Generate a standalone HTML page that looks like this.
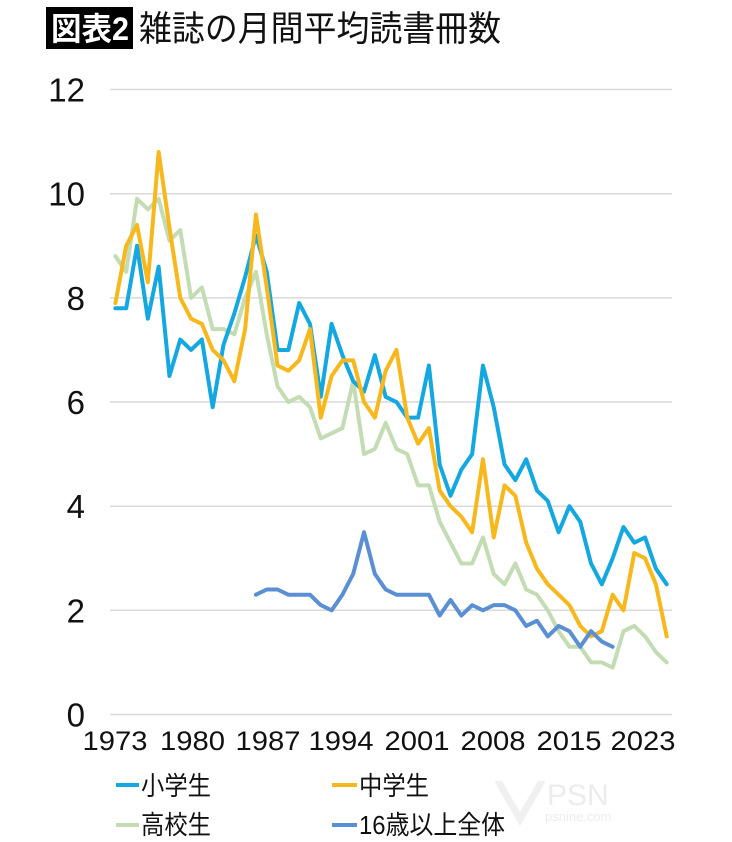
<!DOCTYPE html>
<html>
<head>
<meta charset="utf-8">
<style>
  html, body { margin: 0; padding: 0; background: #ffffff; }
  body { width: 732px; height: 842px; overflow: hidden; }
  svg { display: block; }
  .cjk { font-family: "Liberation Sans", "Noto Sans CJK JP", sans-serif; }
  .num { font-family: "Liberation Sans", "DejaVu Sans", sans-serif; fill: #111; }
</style>
</head>
<body>
<svg width="732" height="842" viewBox="0 0 732 842" xmlns="http://www.w3.org/2000/svg">
  <rect x="0" y="0" width="732" height="842" fill="#ffffff"/>

  <!-- Title -->
  <rect x="46" y="7" width="87" height="42" fill="#000000"/>
  <text x="51" y="40" class="cjk" font-size="32" font-weight="bold" fill="#ffffff" textLength="78" lengthAdjust="spacingAndGlyphs">図表2</text>
  <text x="139" y="41" class="cjk" font-size="35" fill="#111111" textLength="362" lengthAdjust="spacingAndGlyphs">雑誌の月間平均読書冊数</text>

  <!-- Gridlines -->
  <g stroke="#d9d9d9" stroke-width="1.5">
    <line x1="110" y1="89.5" x2="672" y2="89.5"/>
    <line x1="110" y1="193.7" x2="672" y2="193.7"/>
    <line x1="110" y1="297.9" x2="672" y2="297.9"/>
    <line x1="110" y1="402.0" x2="672" y2="402.0"/>
    <line x1="110" y1="506.2" x2="672" y2="506.2"/>
    <line x1="110" y1="610.3" x2="672" y2="610.3"/>
    <line x1="110" y1="714.5" x2="672" y2="714.5"/>
  </g>

  <!-- Y labels -->
  <g class="num" font-size="33" text-anchor="end">
    <text x="85" y="101.5">12</text>
    <text x="85" y="205.7">10</text>
    <text x="85" y="309.9">8</text>
    <text x="85" y="414">6</text>
    <text x="85" y="518.2">4</text>
    <text x="85" y="622.3">2</text>
    <text x="85" y="726.5">0</text>
  </g>

  <!-- X labels -->
  <g class="num" font-size="27">
    <text x="82.5" y="750" textLength="65" lengthAdjust="spacingAndGlyphs">1973</text>
    <text x="160" y="750" textLength="65" lengthAdjust="spacingAndGlyphs">1980</text>
    <text x="235.5" y="750" textLength="65" lengthAdjust="spacingAndGlyphs">1987</text>
    <text x="308.5" y="750" textLength="65" lengthAdjust="spacingAndGlyphs">1994</text>
    <text x="384.5" y="750" textLength="65" lengthAdjust="spacingAndGlyphs">2001</text>
    <text x="460.5" y="750" textLength="65" lengthAdjust="spacingAndGlyphs">2008</text>
    <text x="536.5" y="750" textLength="65" lengthAdjust="spacingAndGlyphs">2015</text>
    <text x="610.5" y="750" textLength="65" lengthAdjust="spacingAndGlyphs">2023</text>
  </g>

  <!-- Series -->
  <g transform="translate(115.4,714.5) scale(10.81,-52.08)" fill="none" stroke-linejoin="round" stroke-linecap="round">
    <!-- 高校生 -->
    <polyline vector-effect="non-scaling-stroke" stroke="#c3dcb4" stroke-width="4"
      points="0,8.8 1,8.5 2,9.9 3,9.7 4,9.9 5,9.1 6,9.3 7,8.0 8,8.2 9,7.4 10,7.4 11,7.3 12,8.0 13,8.5 14,7.3 15,6.3 16,6.0 17,6.1 18,5.9 19,5.3 20,5.4 21,5.5 22,6.4 23,5.0 24,5.1 25,5.6 26,5.1 27,5.0 28,4.4 29,4.4 30,3.7 31,3.3 32,2.9 33,2.9 34,3.4 35,2.7 36,2.5 37,2.9 38,2.4 39,2.3 40,2.0 41,1.6 42,1.3 43,1.3 44,1.0 45,1.0 46,0.9 47,1.6 48,1.7 49,1.5 50,1.2 51,1.0"/>
    <!-- 小学生 -->
    <polyline vector-effect="non-scaling-stroke" stroke="#14a7e0" stroke-width="4"
      points="0,7.8 1,7.8 2,9.0 3,7.6 4,8.6 5,6.5 6,7.2 7,7.0 8,7.2 9,5.9 10,7.1 11,7.7 12,8.4 13,9.2 14,8.5 15,7.0 16,7.0 17,7.9 18,7.5 19,6.1 20,7.5 21,6.9 22,6.4 23,6.2 24,6.9 25,6.1 26,6.0 27,5.7 28,5.7 29,6.7 30,4.8 31,4.2 32,4.7 33,5.0 34,6.7 35,5.9 36,4.8 37,4.5 38,4.9 39,4.3 40,4.1 41,3.5 42,4.0 43,3.7 44,2.9 45,2.5 46,3.0 47,3.6 48,3.3 49,3.4 50,2.8 51,2.5"/>
    <!-- 中学生 -->
    <polyline vector-effect="non-scaling-stroke" stroke="#f6b81c" stroke-width="4"
      points="0,7.9 1,9.0 2,9.4 3,8.3 4,10.8 5,9.35 6,8.0 7,7.6 8,7.5 9,7.0 10,6.8 11,6.4 12,7.4 13,9.6 14,8.2 15,6.7 16,6.6 17,6.8 18,7.4 19,5.7 20,6.5 21,6.8 22,6.8 23,6.0 24,5.7 25,6.6 26,7.0 27,5.7 28,5.2 29,5.5 30,4.3 31,4.0 32,3.8 33,3.5 34,4.9 35,3.4 36,4.4 37,4.2 38,3.3 39,2.8 40,2.5 41,2.3 42,2.1 43,1.7 44,1.5 45,1.6 46,2.3 47,2.0 48,3.1 49,3.0 50,2.5 51,1.5"/>
    <!-- 16歳以上全体 -->
    <polyline vector-effect="non-scaling-stroke" stroke="#5b8fd3" stroke-width="4"
      points="13,2.3 14,2.4 15,2.4 16,2.3 17,2.3 18,2.3 19,2.1 20,2.0 21,2.3 22,2.7 23,3.5 24,2.7 25,2.4 26,2.3 27,2.3 28,2.3 29,2.3 30,1.9 31,2.2 32,1.9 33,2.1 34,2.0 35,2.1 36,2.1 37,2.0 38,1.7 39,1.8 40,1.5 41,1.7 42,1.6 43,1.3 44,1.6 45,1.4 46,1.3"/>
  </g>

  <!-- Watermark (faint) -->
  <g fill="#ececec" font-family="Liberation Sans, sans-serif">
    <path d="M494,781 L520,826 L546,781 L538,781 L520,812 L502,781 Z" fill="#f0f0f0"/>
    <text x="547" y="805" font-size="30">PSN</text>
    <text x="545" y="821" font-size="13">psnine.com</text>
  </g>

  <!-- Legend -->
  <g stroke-width="4">
    <line x1="116" y1="785" x2="139" y2="785" stroke="#14a7e0"/>
    <line x1="332" y1="785" x2="357" y2="785" stroke="#f6b81c"/>
    <line x1="116" y1="825" x2="139" y2="825" stroke="#c3dcb4"/>
    <line x1="332" y1="825" x2="357" y2="825" stroke="#5b8fd3"/>
  </g>
  <g class="cjk" font-size="26" fill="#111111">
    <text x="141" y="795" textLength="70" lengthAdjust="spacingAndGlyphs">小学生</text>
    <text x="359" y="795" textLength="70" lengthAdjust="spacingAndGlyphs">中学生</text>
    <text x="141" y="834" textLength="70" lengthAdjust="spacingAndGlyphs">高校生</text>
    <text x="359" y="834" textLength="146" lengthAdjust="spacingAndGlyphs">16歳以上全体</text>
  </g>
</svg>
</body>
</html>
